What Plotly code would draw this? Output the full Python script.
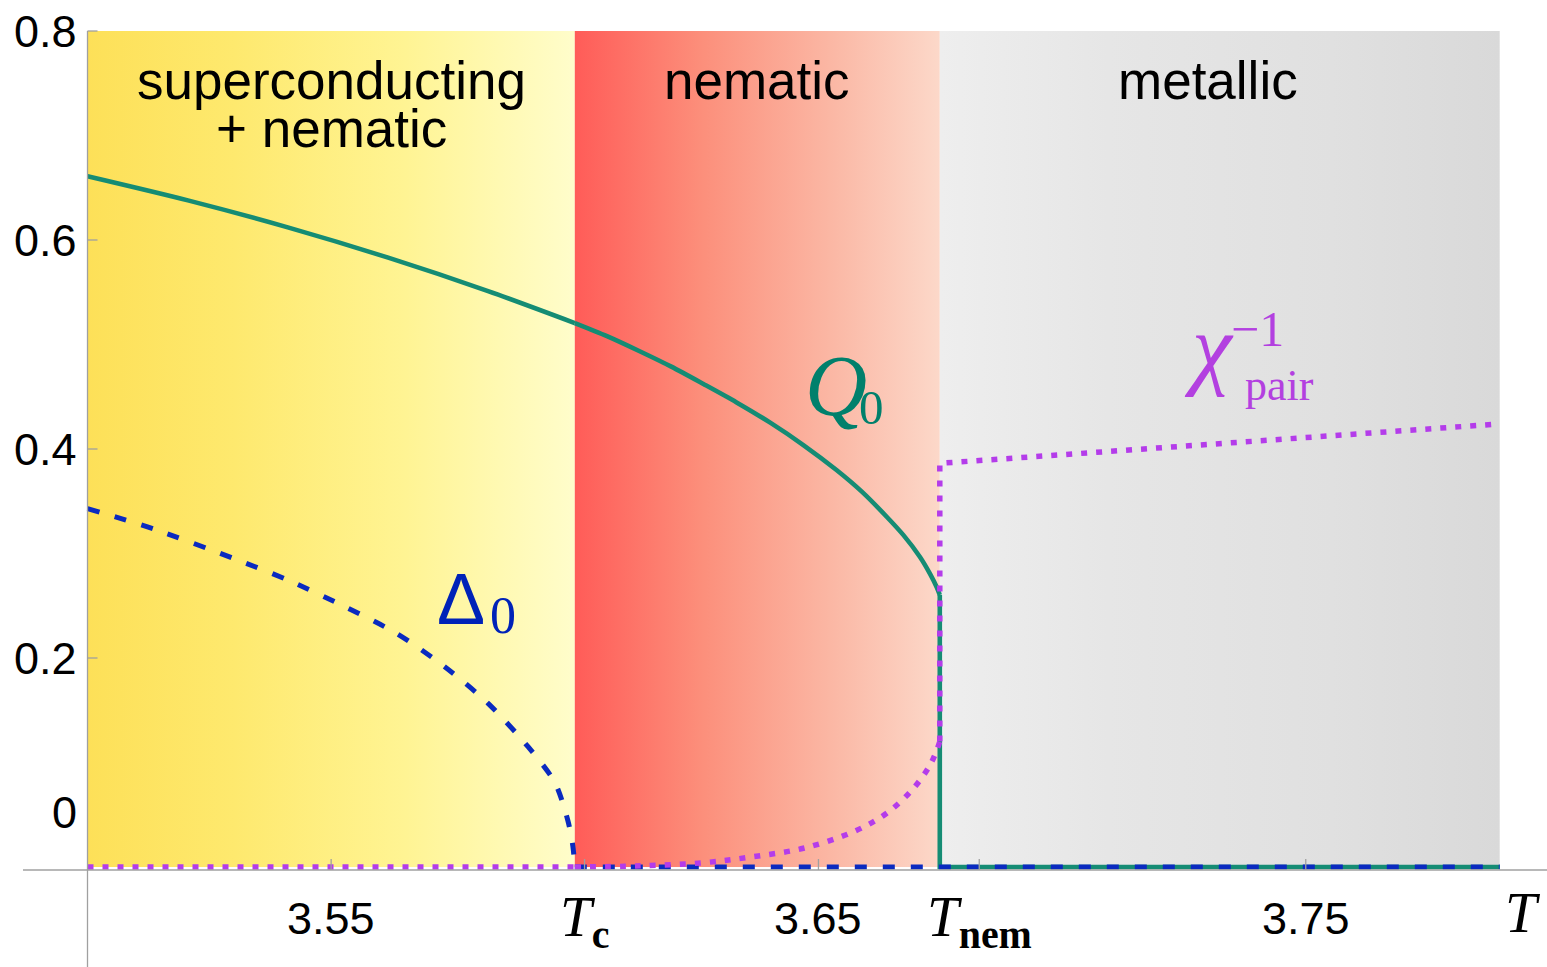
import plotly.graph_objects as go

# ---------------- data ----------------
# phase boundaries (temperature)
T_start, T_c, T_nem, T_end = 3.5, 3.6, 3.6749, 3.7898

# nematic order parameter Q0
T_Q = [3.5, 3.5206, 3.5411, 3.5617, 3.5822, 3.6, 3.6066, 3.6132, 3.6198, 3.6264,
       3.6332, 3.6401, 3.6469, 3.6537, 3.6589, 3.664, 3.6674, 3.6708, 3.6729,
       3.6743, 3.6749, 3.6749, 3.7898]
Q0 = [0.661, 0.6379, 0.6121, 0.5831, 0.5511, 0.5205, 0.508, 0.4938, 0.4788, 0.4622,
      0.4446, 0.4252, 0.4038, 0.3799, 0.3592, 0.3352, 0.3178, 0.2969, 0.2805,
      0.2675, 0.2603, 0.0, 0.0]

# superconducting gap Delta0
T_D = [3.5, 3.5138, 3.5299, 3.5411, 3.5528, 3.5634, 3.5733, 3.5822, 3.5904,
       3.5959, 3.5986, 3.5996, 3.6, 3.7898]
Delta0 = [0.343, 0.3231, 0.2954, 0.2746, 0.2491, 0.2236, 0.1917, 0.1566, 0.1151,
          0.0810, 0.044, 0.02, 0.0, 0.0]

# inverse pair susceptibility
T_X = [3.5, 3.6, 3.6127, 3.6264, 3.6366, 3.6469, 3.6572, 3.664, 3.6695, 3.6729,
       3.6743, 3.6749, 3.6749, 3.7898]
chi_inv = [0.0, 0.0, 0.001, 0.0041, 0.0099, 0.0179, 0.0338, 0.0514, 0.0753, 0.0976,
           0.112, 0.12, 0.3863, 0.424]

# ticks
x_tick_vals = [3.55, 3.602, 3.65, 3.683, 3.75]
x_tick_text = ["3.55", "<i>T</i><sub><b>c</b></sub>", "3.65",
               "<i>T</i><sub><b>nem</b></sub>", "3.75"]
y_tick_vals = [0.2, 0.4, 0.6, 0.8]
y_tick_text = ["0.2", "0.4", "0.6", "0.8"]

region_names = ["superconducting", "nematic", "metallic"]

# ---------------- styling ----------------
TEAL = "#158C74"
BLUE = "#0A2AC0"
PURPLE = "#B43CEA"
AXIS = "#A0A0A0"
SANS = "Liberation Sans, Arial, sans-serif"
SERIF = "Liberation Serif, Times New Roman, serif"

px_per_T = 4873.0
px_per_v = 1045.0
x0_px = 87.5
y0_px = 867.0
W, H = 1547, 967
x_range = [T_start - x0_px / px_per_T, T_start + (W - x0_px) / px_per_T]
y_range = [-(H - y0_px) / px_per_v, y0_px / px_per_v]

fig = go.Figure()

# background regions with horizontal gradients
regions = [
    (T_start, T_c, [[0, "#FDE058"], [0.3, "#FEE96E"], [0.65, "#FFF493"], [1, "#FFFDCB"]]),
    (T_c, T_nem, [[0, "#FF5C58"], [0.35, "#FC8F7B"], [0.7, "#FBB7A4"], [1, "#FCD8C9"]]),
    (T_nem, T_end, [[0, "#EEEEEE"], [0.3, "#E6E6E6"], [0.7, "#E0E0E0"], [1, "#D9D9D9"]]),
]
for a, b, cs in regions:
    fig.add_trace(go.Scatter(
        x=[a, b, b, a, a], y=[0, 0, 0.8, 0.8, 0], mode="lines",
        line=dict(width=0), fill="toself",
        fillgradient=dict(type="horizontal", colorscale=cs, start=a, stop=b),
        hoverinfo="skip", showlegend=False))

# Q0: smooth branches + first-order jump
fig.add_trace(go.Scatter(x=T_Q[:6], y=Q0[:6], mode="lines", line_shape="spline",
                         line=dict(color=TEAL, width=4.6, smoothing=0.8), showlegend=False))
fig.add_trace(go.Scatter(x=T_Q[5:21], y=Q0[5:21], mode="lines", line_shape="spline",
                         line=dict(color=TEAL, width=4.6, smoothing=0.8), showlegend=False))
fig.add_trace(go.Scatter(x=T_Q[20:], y=Q0[20:], mode="lines",
                         line=dict(color=TEAL, width=4.6), showlegend=False))
# Delta0
fig.add_trace(go.Scatter(x=T_D[:13], y=Delta0[:13], mode="lines", line_shape="spline",
                         line=dict(color=BLUE, width=5, dash="12px,16px", smoothing=0.8),
                         showlegend=False))
fig.add_trace(go.Scatter(x=T_D[12:], y=Delta0[12:], mode="lines",
                         line=dict(color=BLUE, width=5, dash="12px,16px"),
                         showlegend=False))
# chi_pair^-1
fig.add_trace(go.Scatter(x=T_X[:2], y=chi_inv[:2], mode="lines",
                         line=dict(color=PURPLE, width=5.5, dash="6px,9px"),
                         showlegend=False))
fig.add_trace(go.Scatter(x=T_X[1:12], y=chi_inv[1:12], mode="lines", line_shape="spline",
                         line=dict(color=PURPLE, width=5.5, dash="6px,9px"),
                         showlegend=False))
fig.add_trace(go.Scatter(x=T_X[11:], y=chi_inv[11:], mode="lines",
                         line=dict(color=PURPLE, width=5.5, dash="6px,9px"),
                         showlegend=False))

shapes = []
# axes
ax_y = -3 / px_per_v
shapes.append(dict(type="line", xref="x", yref="y", x0=x_range[0] + 23 / px_per_T,
                   x1=x_range[1], y0=ax_y, y1=ax_y, line=dict(color=AXIS, width=1.3)))
shapes.append(dict(type="line", xref="x", yref="y", x0=T_start, x1=T_start,
                   y0=y_range[0], y1=0.8, line=dict(color=AXIS, width=1.3)))
for v in y_tick_vals:
    shapes.append(dict(type="line", xref="x", yref="y", x0=T_start,
                       x1=T_start + 10 / px_per_T, y0=v, y1=v,
                       line=dict(color=AXIS, width=1.3), layer="above"))
for t in x_tick_vals:
    shapes.append(dict(type="line", xref="x", yref="y", x0=t, x1=t,
                       y0=ax_y, y1=ax_y + 11 / px_per_v,
                       line=dict(color=AXIS, width=1.3), layer="above"))

ann = []
for v, s in zip(y_tick_vals, y_tick_text):
    ann.append(dict(x=T_start, y=v, text=s, xanchor="right", yanchor="middle",
                    xshift=-9, showarrow=False, font=dict(family=SANS, size=45, color="black")))
ann.append(dict(x=T_start, y=0.052, text="0", xanchor="right", yanchor="middle",
                xshift=-9, showarrow=False, font=dict(family=SANS, size=45, color="black")))
for t, s in zip(x_tick_vals, x_tick_text):
    if "<i>" in s:
        ann.append(dict(x=t, y=-0.052, text=s, xanchor="center", yanchor="middle",
                        showarrow=False, font=dict(family=SERIF, size=57, color="black")))
    else:
        ann.append(dict(x=t, y=-0.0495, text=s, xanchor="center", yanchor="middle",
                        showarrow=False, font=dict(family=SANS, size=45, color="black")))
ann.append(dict(x=3.7945, y=-0.044, text="<i>T</i>", xanchor="center", yanchor="middle",
                showarrow=False, font=dict(family=SERIF, size=57, color="black")))

# region labels
ann.append(dict(x=(T_start + T_c) / 2, y=0.7525, text=region_names[0], showarrow=False,
                xanchor="center", yanchor="middle", font=dict(family=SANS, size=53, color="black")))
ann.append(dict(x=(T_start + T_c) / 2, y=0.7066, text="+ nematic", showarrow=False,
                xanchor="center", yanchor="middle", font=dict(family=SANS, size=53, color="black")))
ann.append(dict(x=(T_c + T_nem) / 2, y=0.7525, text=region_names[1], showarrow=False,
                xanchor="center", yanchor="middle", font=dict(family=SANS, size=53, color="black")))
ann.append(dict(x=3.7299, y=0.7525, text=region_names[2], showarrow=False,
                xanchor="center", yanchor="middle", font=dict(family=SANS, size=53, color="black")))

# curve labels
ann.append(dict(x=3.6536, y=0.4603, text="<i>Q</i>", showarrow=False,
                font=dict(family=SERIF, size=86, color="#00806C")))
ann.append(dict(x=3.6609, y=0.4397, text="0", showarrow=False,
                font=dict(family=SERIF, size=49, color="#00806C")))
ann.append(dict(x=3.5767, y=0.2565, text="Δ", showarrow=False,
                font=dict(family=SANS, size=72, color="#0022B8")))
ann.append(dict(x=3.5852, y=0.2407, text="0", showarrow=False,
                font=dict(family=SERIF, size=52, color="#0022B8")))
ann.append(dict(x=3.7302, y=0.4967, text="<i>χ</i>", showarrow=False,
                font=dict(family=SERIF, size=90, color="#B340E0")))
ann.append(dict(x=3.7446, y=0.4612, text="pair", showarrow=False,
                font=dict(family=SERIF, size=44, color="#B340E0")))
ann.append(dict(x=3.7401, y=0.515, text="−1", showarrow=False,
                font=dict(family=SERIF, size=50, color="#B340E0")))

fig.update_layout(
    width=W, height=H, margin=dict(l=0, r=0, t=0, b=0),
    paper_bgcolor="white", plot_bgcolor="white",
    xaxis=dict(range=x_range, visible=False, fixedrange=True),
    yaxis=dict(range=y_range, visible=False, fixedrange=True),
    shapes=shapes, annotations=ann, hovermode=False, showlegend=False,
)

fig.write_html("out.html", config={"displayModeBar": False},
               post_script="document.body.style.margin='0';document.body.style.overflow='hidden';")
